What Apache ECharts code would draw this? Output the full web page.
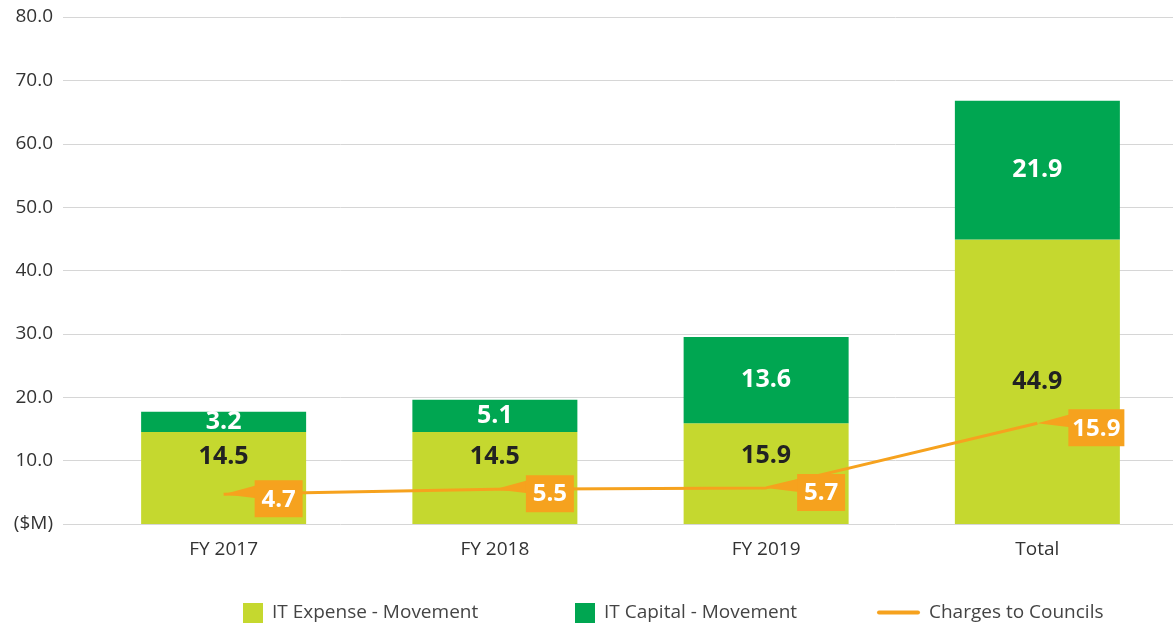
<!DOCTYPE html>
<html>
<head>
<meta charset="utf-8">
<script src="https://cdn.jsdelivr.net/npm/echarts@6/dist/echarts.min.js"></script>
<style>
  html, body {margin: 0; padding: 0; background: #fff;}
  #chart {width: 1173px; height: 623px;}
</style>
</head>
<body>
<div id="chart"></div>
<script>
const categories = ['FY 2017', 'FY 2018', 'FY 2019', 'Total']
const itExpense = [14.5, 14.5, 15.9, 44.9]
const itCapital = [3.2, 5.1, 13.6, 21.9]
const charges = [4.7, 5.5, 5.7, 15.9]
const yTicks = [0, 10, 20, 30, 40, 50, 60, 70, 80]

const expenseColor = '#c5d82f'
const capitalColor = '#00a651'
const orange = '#f6a21e'
const fontFamily = '"Open Sans", "Noto Sans", sans-serif'
const textColor = '#333'
const legendText = {fontSize: 19, color: '#444', fontFamily, padding: [0, 0, 0, 4]}

// expense labels sit high in the bar for the first three, centred for Total
const expenseLabelDist = [12, 12, 20, null]

const chart = echarts.init(document.getElementById('chart'))

const calloutItem = (params, api) => {
  const pt = api.coord([api.value(0), api.value(1)])
  const boxX = pt[0] + 31
  const boxY = pt[1] - 14
  const txt = charges[params.dataIndex].toFixed(1)
  const w = txt.length > 3 ? 56 : 48
  const h = 37
  return {
    type: 'group',
    children: [{
      type: 'polygon',
      shape: {points: [[pt[0], pt[1]], [boxX + 2, boxY + 5], [boxX + 2, boxY + 18]]},
      style: {fill: orange},
    }, {
      type: 'rect',
      shape: {x: boxX, y: boxY, width: w, height: h},
      style: {fill: orange},
    }, {
      type: 'text',
      style: {
        text: txt,
        x: boxX + w / 2,
        y: boxY + h / 2 + 1,
        align: 'center',
        verticalAlign: 'middle',
        fill: '#fff',
        font: `bold 24px ${fontFamily}`,
      },
    }],
  }
}

const option = {
  backgroundColor: '#fff',
  textStyle: {fontFamily},
  animation: false,
  grid: [
    {left: 63, right: 0, top: 17, bottom: 99},
    {left: 88, width: 1090, top: 17, bottom: 99},
  ],
  legend: [{
    left: 238,
    top: 598,
    itemWidth: 20,
    itemHeight: 20,
    icon: 'rect',
    textStyle: legendText,
    data: ['IT Expense - Movement'],
  }, {
    left: 570,
    top: 598,
    itemWidth: 20,
    itemHeight: 20,
    icon: 'rect',
    textStyle: legendText,
    data: ['IT Capital - Movement'],
  }, {
    left: 872,
    top: 598,
    itemWidth: 43,
    itemHeight: 20,
    textStyle: legendText,
    data: [{name: 'Charges to Councils', icon: 'path://M2,8 L41,8 A2,2 0 0 1 41,12 L2,12 A2,2 0 0 1 2,8 Z'}],
  }],
  xAxis: [{
    type: 'category',
    gridIndex: 0,
    show: false,
    data: categories,
  }, {
    type: 'category',
    gridIndex: 1,
    data: categories,
    axisLine: {show: false},
    axisTick: {show: false},
    axisLabel: {fontSize: 19, color: textColor, margin: 16},
  }],
  yAxis: [{
    type: 'value',
    gridIndex: 0,
    min: yTicks[0],
    max: yTicks[yTicks.length - 1],
    interval: 10,
    axisLine: {show: false},
    axisTick: {show: false},
    splitLine: {lineStyle: {color: '#d6d6d6', width: 1}},
    axisLabel: {
      fontSize: 19,
      color: textColor,
      margin: 10,
      formatter: v => (v === 0 ? '($M)' : v.toFixed(1)),
    },
  }, {
    type: 'value',
    gridIndex: 1,
    min: yTicks[0],
    max: yTicks[yTicks.length - 1],
    interval: 10,
    show: false,
    splitLine: {show: false},
  }],
  series: [{
    name: 'IT Expense - Movement',
    type: 'bar',
    xAxisIndex: 1,
    yAxisIndex: 1,
    stack: 'it',
    barWidth: 165,
    itemStyle: {color: expenseColor},
    data: itExpense.map((v, i) => ({
      value: v,
      label: expenseLabelDist[i] == null
        ? {position: 'inside'}
        : {position: 'insideTop', distance: expenseLabelDist[i]},
    })),
    label: {
      show: true,
      color: '#222',
      fontSize: 25,
      fontWeight: 'bold',
      formatter: p => p.value.toFixed(1),
    },
  }, {
    name: 'IT Capital - Movement',
    type: 'bar',
    xAxisIndex: 1,
    yAxisIndex: 1,
    stack: 'it',
    barWidth: 165,
    itemStyle: {color: capitalColor},
    data: itCapital,
    label: {
      show: true,
      position: 'inside',
      color: '#fff',
      fontSize: 25,
      fontWeight: 'bold',
      formatter: p => p.value.toFixed(1),
    },
  }, {
    name: 'Charges to Councils',
    type: 'line',
    xAxisIndex: 1,
    yAxisIndex: 1,
    data: charges,
    showSymbol: false,
    symbol: 'none',
    itemStyle: {color: orange},
    lineStyle: {color: orange, width: 3},
    z: 5,
  }, {
    type: 'custom',
    xAxisIndex: 1,
    yAxisIndex: 1,
    data: charges.map((v, i) => [i, v]),
    renderItem: calloutItem,
    z: 6,
  }],
}

chart.setOption(option)
</script>
</body>
</html>
